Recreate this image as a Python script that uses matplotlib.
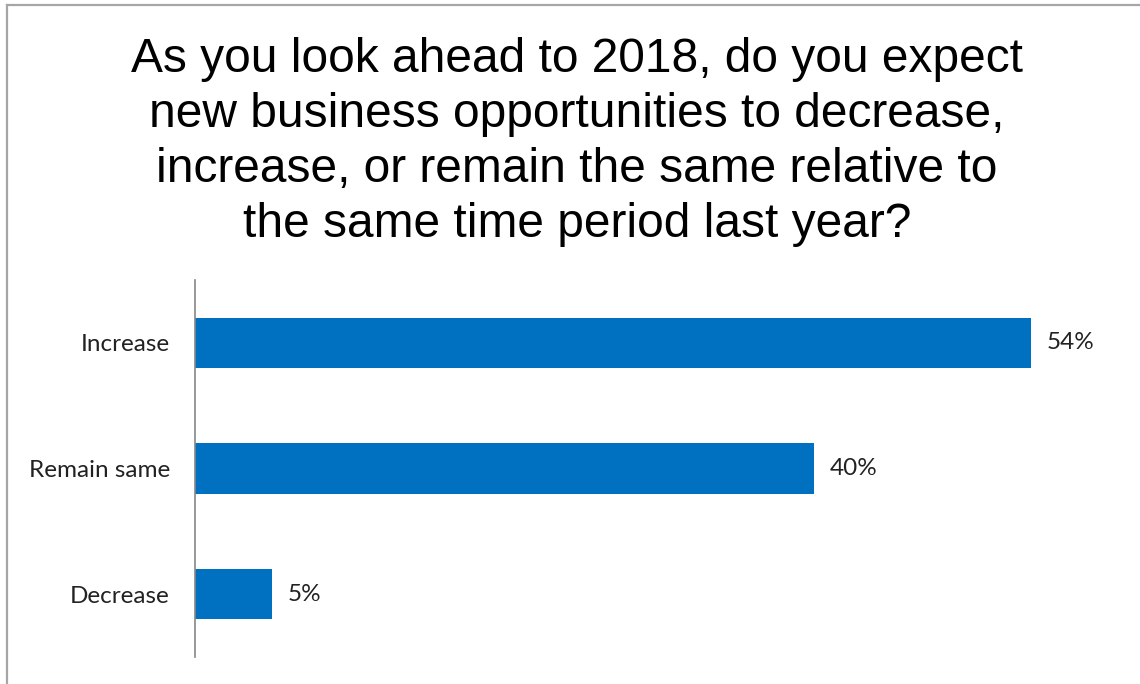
import matplotlib.pyplot as plt
from matplotlib.lines import Line2D

# survey answers and shares (%)
categories = ['Increase', 'Remain same', 'Decrease']
shares = [54, 40, 5]
value_labels = ['54%', '40%', '5%']

title = ('As you look ahead to 2018, do you expect\n'
         'new business opportunities to decrease,\n'
         'increase, or remain the same relative to\n'
         'the same time period last year?')

W, H = 1140, 684


def make_chart():
    fig = plt.figure(figsize=(W / 100, H / 100), dpi=100)

    # frame around the slide (left and top edges show)
    fig.add_artist(Line2D([7 / W, 7 / W], [0, 1 - 5 / H], transform=fig.transFigure,
                          color='#a6a6a6', lw=1.6))
    fig.add_artist(Line2D([7 / W, 1], [1 - 5 / H, 1 - 5 / H], transform=fig.transFigure,
                          color='#a6a6a6', lw=1.6))

    # baseline of the last title line
    fig.text(577 / W, 1 - 237 / H, title, ha='center', va='baseline',
             fontsize=34.5, family='Liberation Sans', linespacing=1.29, color='black')

    # plot area: x from 195px, y from 280px to 657px
    x_max = 60
    px_per_unit = 836 / 54
    left = 195 / W
    width = x_max * px_per_unit / W
    bottom = 1 - 657 / H
    height = (657 - 280) / H
    ax = fig.add_axes([left, bottom, width, height])

    y = range(len(categories))
    ax.barh(y, shares, height=0.4, color='#0070c0', edgecolor='none')
    ax.set_xlim(0, x_max)
    ax.set_ylim(len(categories) - 0.5, -0.5)

    for i, (v, lab) in enumerate(zip(shares, value_labels)):
        ax.annotate(lab, (v, i), xytext=(11, 0), textcoords='offset points',
                    ha='left', va='center', fontsize=17.5, family='Lato', color='#222222')

    ax.set_yticks(list(y))
    ax.set_yticklabels(categories, fontsize=17.5, family='Lato', color='#222222')
    ax.tick_params(axis='y', length=0, pad=18)
    ax.set_xticks([])

    for side in ['top', 'right', 'bottom']:
        ax.spines[side].set_visible(False)
    ax.spines['left'].set_color('#868686')
    ax.spines['left'].set_linewidth(1.2)

    fig.savefig('out.png', dpi=100)


if __name__ == '__main__':
    make_chart()
